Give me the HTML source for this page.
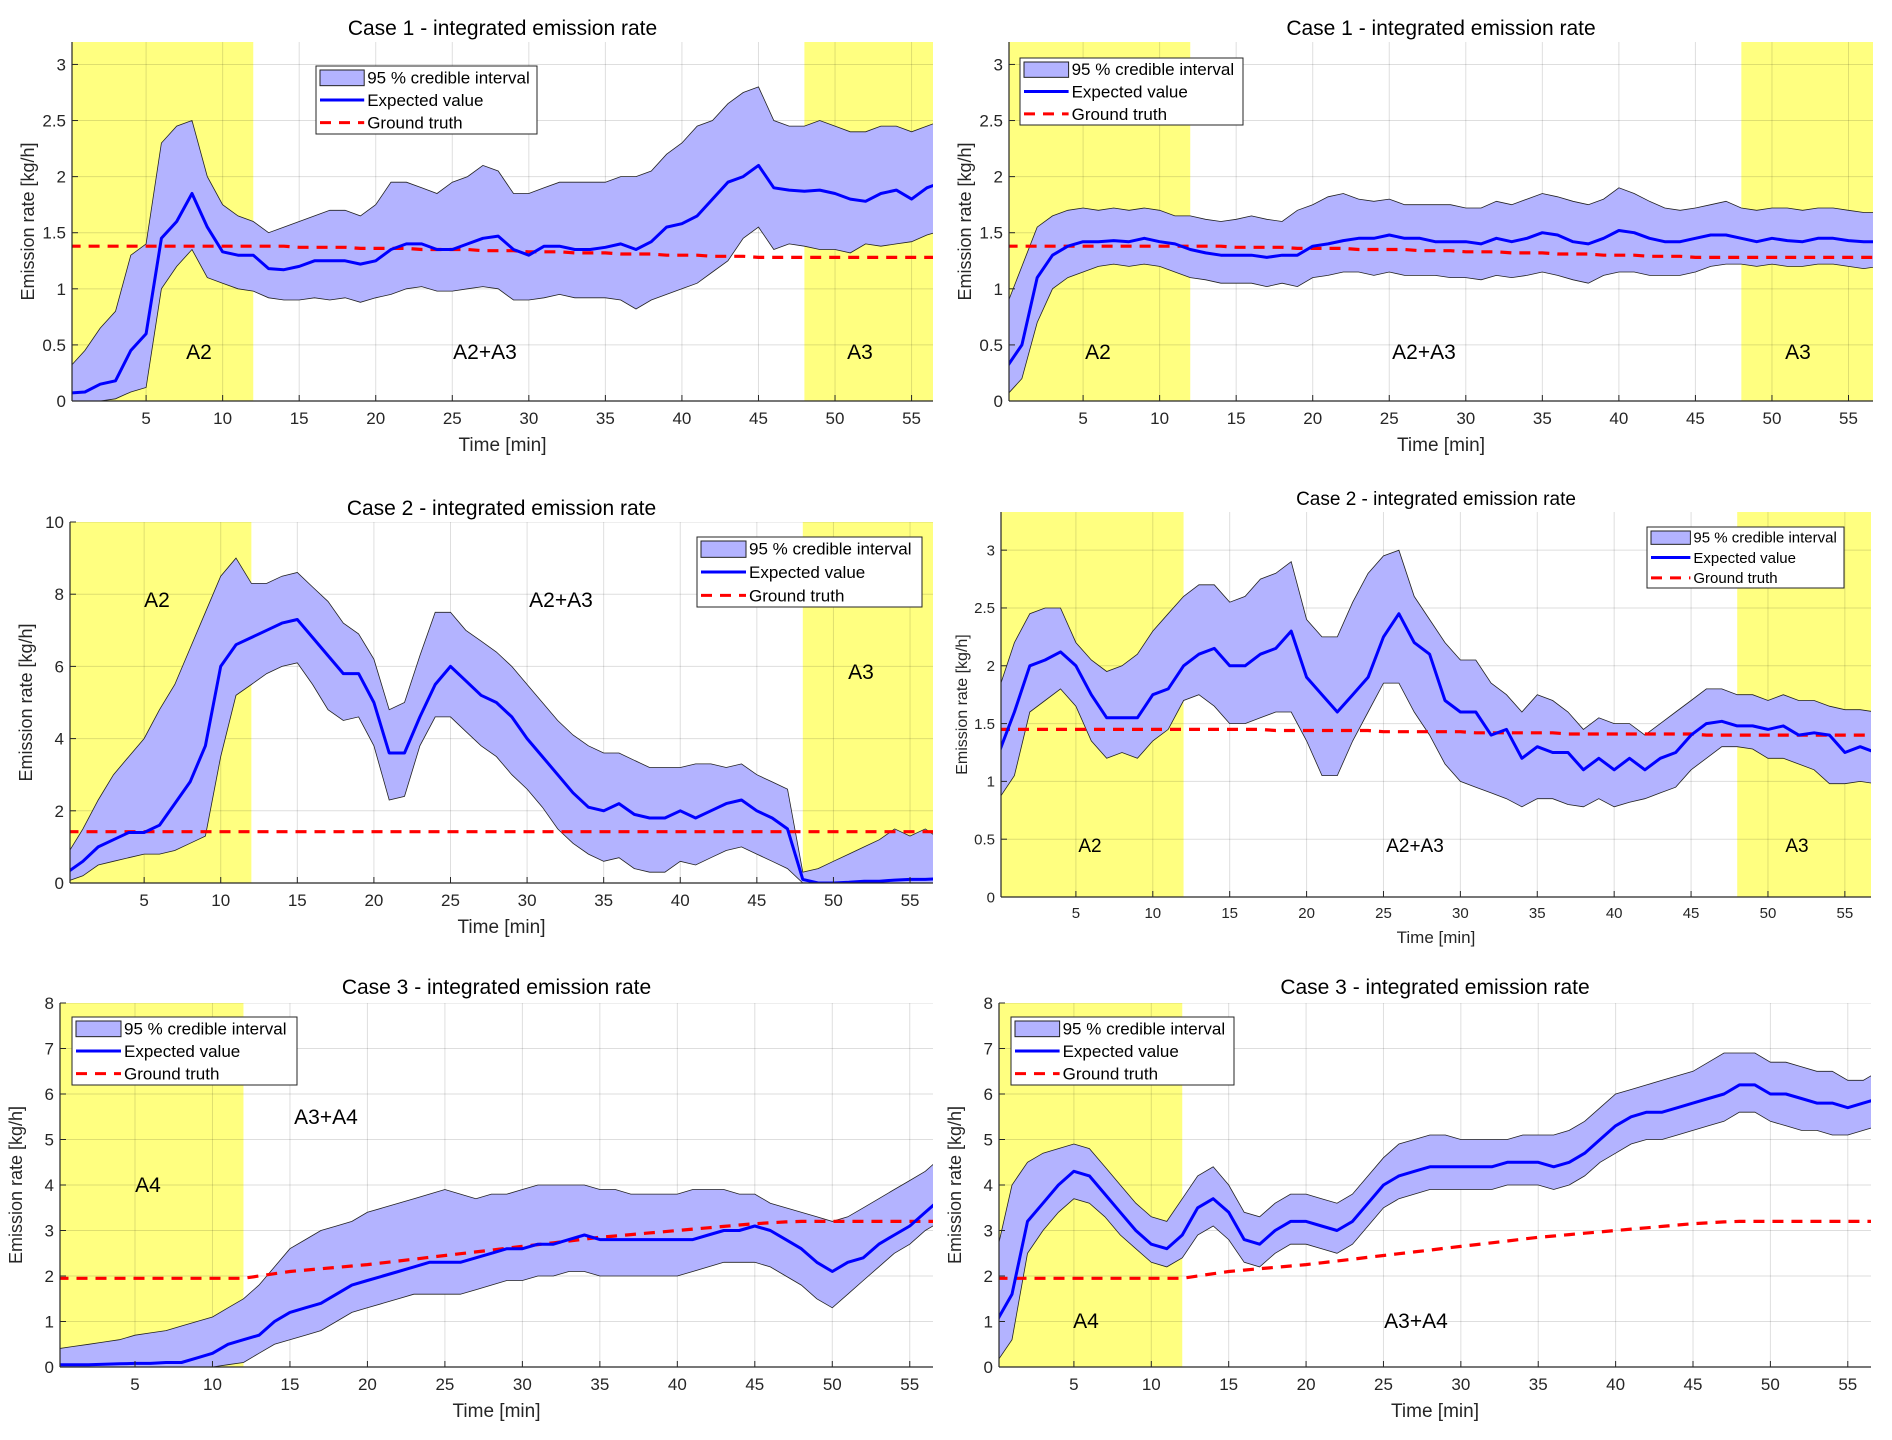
<!DOCTYPE html>
<html><head><meta charset="utf-8">
<style>
html,body{margin:0;padding:0;background:#fff;}
svg{display:block;font-family:"Liberation Sans",Arial,sans-serif;}
</style></head>
<body>
<svg id="fig" width="1892" height="1440" viewBox="0 0 1892 1440" xmlns="http://www.w3.org/2000/svg"></svg>
<script>
// Shared time axis (minutes)
const time = [0,1,2,3,4,5,6,7,8,9,10,11,12,13,14,15,16,17,18,19,20,21,22,23,24,25,26,27,28,29,30,31,32,33,34,35,36,37,38,39,40,41,42,43,44,45,46,47,48,49,50,51,52,53,54,55,56,57];
const xTicks = [5,10,15,20,25,30,35,40,45,50,55];

// Panel 1: Case 1 left
const p1Mean = [0.07,0.08,0.15,0.18,0.45,0.6,1.45,1.6,1.85,1.55,1.33,1.3,1.3,1.18,1.17,1.2,1.25,1.25,1.25,1.22,1.25,1.35,1.4,1.4,1.35,1.35,1.4,1.45,1.47,1.35,1.3,1.38,1.38,1.35,1.35,1.37,1.4,1.35,1.42,1.55,1.58,1.65,1.8,1.95,2.0,2.1,1.9,1.88,1.87,1.88,1.85,1.8,1.78,1.85,1.88,1.8,1.9,1.95];
const p1Upper = [0.3,0.45,0.65,0.8,1.3,1.4,2.3,2.45,2.5,2.0,1.75,1.65,1.6,1.5,1.55,1.6,1.65,1.7,1.7,1.65,1.75,1.95,1.95,1.9,1.85,1.95,2.0,2.1,2.05,1.85,1.85,1.9,1.95,1.95,1.95,1.95,2.0,2.0,2.05,2.2,2.3,2.45,2.5,2.65,2.75,2.8,2.5,2.45,2.45,2.5,2.45,2.4,2.4,2.45,2.45,2.4,2.45,2.5];
const p1Lower = [0,0,0,0.02,0.08,0.12,1.0,1.2,1.35,1.1,1.05,1.0,0.98,0.92,0.9,0.9,0.92,0.9,0.92,0.88,0.92,0.95,1.0,1.02,0.98,0.98,1.0,1.02,1.0,0.9,0.9,0.92,0.95,0.92,0.92,0.92,0.9,0.82,0.9,0.95,1.0,1.05,1.15,1.25,1.45,1.55,1.35,1.4,1.38,1.35,1.35,1.32,1.4,1.38,1.4,1.42,1.48,1.52];
const p1Truth = [1.38,1.38,1.38,1.38,1.38,1.38,1.38,1.38,1.38,1.38,1.38,1.38,1.38,1.38,1.38,1.37,1.37,1.37,1.37,1.36,1.36,1.36,1.36,1.35,1.35,1.35,1.35,1.34,1.34,1.34,1.33,1.33,1.33,1.32,1.32,1.32,1.31,1.31,1.31,1.3,1.3,1.3,1.29,1.29,1.29,1.28,1.28,1.28,1.28,1.28,1.28,1.28,1.28,1.28,1.28,1.28,1.28,1.28];

// Panel 2: Case 1 right
const p2Mean = [0.3,0.5,1.1,1.3,1.38,1.42,1.42,1.43,1.42,1.45,1.42,1.4,1.35,1.32,1.3,1.3,1.3,1.28,1.3,1.3,1.38,1.4,1.43,1.45,1.45,1.48,1.45,1.45,1.42,1.42,1.42,1.4,1.45,1.42,1.45,1.5,1.48,1.42,1.4,1.45,1.52,1.5,1.45,1.42,1.42,1.45,1.48,1.48,1.45,1.42,1.45,1.43,1.42,1.45,1.45,1.43,1.42,1.42];
const p2Upper = [0.85,1.2,1.55,1.65,1.7,1.72,1.7,1.72,1.7,1.72,1.7,1.65,1.65,1.62,1.6,1.62,1.65,1.62,1.6,1.7,1.75,1.82,1.85,1.8,1.78,1.8,1.75,1.75,1.75,1.75,1.72,1.72,1.78,1.75,1.8,1.85,1.82,1.78,1.75,1.8,1.9,1.85,1.78,1.72,1.7,1.72,1.75,1.78,1.72,1.7,1.72,1.72,1.7,1.72,1.72,1.7,1.68,1.68];
const p2Lower = [0.05,0.2,0.7,1.0,1.1,1.15,1.2,1.22,1.2,1.22,1.2,1.15,1.1,1.08,1.05,1.05,1.05,1.02,1.05,1.02,1.1,1.12,1.15,1.15,1.12,1.15,1.12,1.12,1.12,1.1,1.1,1.08,1.12,1.1,1.12,1.15,1.12,1.08,1.05,1.12,1.15,1.15,1.12,1.12,1.12,1.15,1.2,1.22,1.22,1.2,1.22,1.2,1.2,1.22,1.22,1.2,1.18,1.2];
const p2Truth = p1Truth;

// Panel 3: Case 2 left
const p3Mean = [0.3,0.6,1.0,1.2,1.4,1.4,1.6,2.2,2.8,3.8,6.0,6.6,6.8,7.0,7.2,7.3,6.8,6.3,5.8,5.8,5.0,3.6,3.6,4.6,5.5,6.0,5.6,5.2,5.0,4.6,4.0,3.5,3.0,2.5,2.1,2.0,2.2,1.9,1.8,1.8,2.0,1.8,2.0,2.2,2.3,2.0,1.8,1.5,0.1,0.0,0.0,0.02,0.05,0.05,0.08,0.1,0.1,0.12];
const p3Upper = [0.8,1.5,2.3,3.0,3.5,4.0,4.8,5.5,6.5,7.5,8.5,9.0,8.3,8.3,8.5,8.6,8.2,7.8,7.2,6.9,6.2,4.8,5.0,6.3,7.5,7.5,7.0,6.7,6.4,6.0,5.5,5.0,4.5,4.1,3.8,3.6,3.6,3.4,3.2,3.2,3.2,3.3,3.3,3.2,3.3,3.0,2.8,2.6,0.3,0.4,0.6,0.8,1.0,1.2,1.5,1.3,1.5,1.2];
const p3Lower = [0.05,0.2,0.5,0.6,0.7,0.8,0.8,0.9,1.1,1.3,3.5,5.2,5.5,5.8,6.0,6.1,5.5,4.8,4.5,4.6,3.8,2.3,2.4,3.8,4.6,4.6,4.2,3.8,3.5,3.0,2.6,2.1,1.5,1.1,0.8,0.6,0.7,0.4,0.3,0.3,0.6,0.5,0.7,0.9,1.0,0.8,0.6,0.4,0,0,0,0,0,0,0,0,0,0];
const p3Truth = [1.42,1.42,1.42,1.42,1.42,1.42,1.42,1.42,1.42,1.42,1.42,1.42,1.42,1.42,1.42,1.42,1.42,1.42,1.42,1.42,1.42,1.42,1.42,1.42,1.42,1.42,1.42,1.42,1.42,1.42,1.42,1.42,1.42,1.42,1.42,1.42,1.42,1.42,1.42,1.42,1.42,1.42,1.42,1.42,1.42,1.42,1.42,1.42,1.42,1.42,1.42,1.42,1.42,1.42,1.42,1.42,1.42,1.42];

// Panel 4: Case 2 right
const p4Mean = [1.25,1.6,2.0,2.05,2.12,2.0,1.75,1.55,1.55,1.55,1.75,1.8,2.0,2.1,2.15,2.0,2.0,2.1,2.15,2.3,1.9,1.75,1.6,1.75,1.9,2.25,2.45,2.2,2.1,1.7,1.6,1.6,1.4,1.45,1.2,1.3,1.25,1.25,1.1,1.2,1.1,1.2,1.1,1.2,1.25,1.4,1.5,1.52,1.48,1.48,1.45,1.48,1.4,1.42,1.4,1.25,1.3,1.25];
const p4Upper = [1.8,2.2,2.45,2.5,2.5,2.2,2.05,1.95,2.0,2.1,2.3,2.45,2.6,2.7,2.7,2.55,2.6,2.75,2.8,2.9,2.4,2.25,2.25,2.55,2.8,2.95,3.0,2.6,2.4,2.2,2.05,2.05,1.85,1.75,1.6,1.75,1.7,1.6,1.45,1.55,1.5,1.5,1.4,1.5,1.6,1.7,1.8,1.8,1.75,1.75,1.7,1.75,1.7,1.7,1.65,1.62,1.62,1.6];
const p4Lower = [0.85,1.05,1.6,1.7,1.8,1.65,1.35,1.2,1.25,1.2,1.35,1.45,1.7,1.75,1.65,1.5,1.5,1.55,1.6,1.6,1.35,1.05,1.05,1.35,1.6,1.85,1.85,1.6,1.4,1.15,1.0,0.95,0.9,0.85,0.78,0.85,0.85,0.8,0.78,0.85,0.78,0.82,0.85,0.9,0.95,1.1,1.2,1.3,1.3,1.28,1.2,1.2,1.15,1.1,0.98,0.98,1.0,0.98];
const p4Truth = [1.45,1.45,1.45,1.45,1.45,1.45,1.45,1.45,1.45,1.45,1.45,1.45,1.45,1.45,1.45,1.45,1.45,1.45,1.44,1.44,1.44,1.44,1.44,1.44,1.44,1.43,1.43,1.43,1.43,1.43,1.43,1.42,1.42,1.42,1.42,1.42,1.42,1.41,1.41,1.41,1.41,1.41,1.41,1.41,1.41,1.41,1.4,1.4,1.4,1.4,1.4,1.4,1.4,1.4,1.4,1.4,1.4,1.4];

// Panel 5: Case 3 left
const p5Mean = [0.05,0.05,0.05,0.06,0.07,0.08,0.08,0.1,0.1,0.2,0.3,0.5,0.6,0.7,1.0,1.2,1.3,1.4,1.6,1.8,1.9,2.0,2.1,2.2,2.3,2.3,2.3,2.4,2.5,2.6,2.6,2.7,2.7,2.8,2.9,2.8,2.8,2.8,2.8,2.8,2.8,2.8,2.9,3.0,3.0,3.1,3.0,2.8,2.6,2.3,2.1,2.3,2.4,2.7,2.9,3.1,3.4,3.7];
const p5Upper = [0.4,0.45,0.5,0.55,0.6,0.7,0.75,0.8,0.9,1.0,1.1,1.3,1.5,1.8,2.2,2.6,2.8,3.0,3.1,3.2,3.4,3.5,3.6,3.7,3.8,3.9,3.8,3.7,3.8,3.8,3.9,4.0,4.0,4.0,4.0,3.9,3.9,3.8,3.8,3.8,3.8,3.9,3.9,3.9,3.8,3.8,3.6,3.5,3.4,3.3,3.2,3.3,3.5,3.7,3.9,4.1,4.3,4.6];
const p5Lower = [0,0,0,0,0,0,0,0,0,0,0,0.05,0.1,0.3,0.5,0.6,0.7,0.8,1.0,1.2,1.3,1.4,1.5,1.6,1.6,1.6,1.6,1.7,1.8,1.9,1.9,2.0,2.0,2.1,2.1,2.0,2.0,2.0,2.0,2.0,2.0,2.1,2.2,2.3,2.3,2.3,2.2,2.0,1.8,1.5,1.3,1.6,1.9,2.2,2.5,2.7,3.0,3.2];
const p5Truth = [1.95,1.95,1.95,1.95,1.95,1.95,1.95,1.95,1.95,1.95,1.95,1.95,1.95,2.0,2.05,2.1,2.13,2.16,2.19,2.22,2.25,2.29,2.33,2.37,2.41,2.45,2.49,2.53,2.57,2.61,2.65,2.69,2.73,2.77,2.81,2.85,2.88,2.91,2.94,2.97,3.0,3.03,3.06,3.09,3.12,3.15,3.17,3.19,3.2,3.2,3.2,3.2,3.2,3.2,3.2,3.2,3.2,3.2];

// Panel 6: Case 3 right
const p6Mean = [1.0,1.6,3.2,3.6,4.0,4.3,4.2,3.8,3.4,3.0,2.7,2.6,2.9,3.5,3.7,3.4,2.8,2.7,3.0,3.2,3.2,3.1,3.0,3.2,3.6,4.0,4.2,4.3,4.4,4.4,4.4,4.4,4.4,4.5,4.5,4.5,4.4,4.5,4.7,5.0,5.3,5.5,5.6,5.6,5.7,5.8,5.9,6.0,6.2,6.2,6.0,6.0,5.9,5.8,5.8,5.7,5.8,5.9];
const p6Upper = [2.5,4.0,4.5,4.7,4.8,4.9,4.8,4.4,4.0,3.6,3.3,3.2,3.7,4.2,4.4,4.0,3.4,3.3,3.6,3.8,3.8,3.7,3.6,3.8,4.2,4.6,4.9,5.0,5.1,5.1,5.0,5.0,5.0,5.0,5.1,5.1,5.1,5.2,5.4,5.7,6.0,6.1,6.2,6.3,6.4,6.5,6.7,6.9,6.9,6.9,6.7,6.7,6.6,6.5,6.5,6.3,6.3,6.5];
const p6Lower = [0.1,0.6,2.5,3.0,3.4,3.7,3.6,3.3,2.9,2.6,2.3,2.2,2.4,2.9,3.1,2.8,2.3,2.2,2.5,2.7,2.7,2.6,2.5,2.7,3.1,3.5,3.7,3.8,3.9,3.9,3.9,3.9,3.9,4.0,4.0,4.0,3.9,4.0,4.2,4.5,4.7,4.9,5.0,5.0,5.1,5.2,5.3,5.4,5.6,5.6,5.4,5.3,5.2,5.2,5.1,5.1,5.2,5.3];
const p6Truth = p5Truth;

const yTicks1 = [0,0.5,1,1.5,2,2.5,3];
const yTicks3 = [0,2,4,6,8,10];
const yTicks5 = [0,1,2,3,4,5,6,7,8];

const NS = "http://www.w3.org/2000/svg";
const svg = document.getElementById('fig');
function mk(tag, attrs, parent){
  const e = document.createElementNS(NS, tag);
  for (const k in attrs) e.setAttribute(k, attrs[k]);
  (parent||svg).appendChild(e);
  return e;
}

const panels = [
  {id:'p1', title:'Case 1 - integrated emission rate', L:72,R:933,T:42,B:401, xmin:0.16,xmax:56.4, ymax:3.2, yt:yTicks1, fs:17, tfs:21, mean:p1Mean, up:p1Upper, lo:p1Lower, truth:p1Truth, yellow:[[0,12],[48,60]],
   leg:{x:316,y:66,w:221,h:68}, labels:[['A2',199,359],['A2+A3',485,359],['A3',860,359]], titleY:35},
  {id:'p2', title:'Case 1 - integrated emission rate', L:1009,R:1873,T:42,B:401, xmin:0.16,xmax:56.6, ymax:3.2, yt:yTicks1, fs:17, tfs:21, mean:p2Mean, up:p2Upper, lo:p2Lower, truth:p2Truth, yellow:[[0,12],[48,60]],
   leg:{x:1020,y:58,w:223,h:67}, labels:[['A2',1098,359],['A2+A3',1424,359],['A3',1798,359]], titleY:35},
  {id:'p3', title:'Case 2 - integrated emission rate', L:70,R:933,T:522,B:883, xmin:0.16,xmax:56.5, ymax:10, yt:yTicks3, fs:17, tfs:21, mean:p3Mean, up:p3Upper, lo:p3Lower, truth:p3Truth, yellow:[[0,12],[48,60]],
   leg:{x:697,y:537,w:225,h:70}, labels:[['A2',157,607],['A2+A3',561,607],['A3',861,679]], titleY:515},
  {id:'p4', title:'Case 2 - integrated emission rate', L:1001,R:1871,T:512,B:897, xmin:0.13,xmax:56.7, ymax:3.33, yt:yTicks1, fs:15, tfs:19, mean:p4Mean, up:p4Upper, lo:p4Lower, truth:p4Truth, yellow:[[0,12],[48,60]],
   leg:{x:1647,y:527,w:197,h:61}, labels:[['A2',1090,852],['A2+A3',1415,852],['A3',1797,852]], titleY:505},
  {id:'p5', title:'Case 3 - integrated emission rate', L:60,R:933,T:1003,B:1367, xmin:0.16,xmax:56.5, ymax:8, yt:yTicks5, fs:17, tfs:21, mean:p5Mean, up:p5Upper, lo:p5Lower, truth:p5Truth, yellow:[[0,12]],
   leg:{x:72,y:1017,w:225,h:68}, labels:[['A4',148,1192],['A3+A4',326,1124]], titleY:994},
  {id:'p6', title:'Case 3 - integrated emission rate', L:999,R:1871,T:1003,B:1367, xmin:0.16,xmax:56.5, ymax:8, yt:yTicks5, fs:17, tfs:21, mean:p6Mean, up:p6Upper, lo:p6Lower, truth:p6Truth, yellow:[[0,12]],
   leg:{x:1011,y:1017,w:223,h:68}, labels:[['A4',1086,1328],['A3+A4',1416,1328]], titleY:994}
];

panels.forEach(p => {
  const g = mk('g', {});
  
  
  const xs = v => p.L + (v - p.xmin) / (p.xmax - p.xmin) * (p.R - p.L);
  const ys = v => p.B - v / p.ymax * (p.B - p.T);
  const cp = mk('clipPath', {id: 'clip-' + p.id}, g);
  mk('rect', {x:p.L, y:p.T, width:p.R-p.L, height:p.B-p.T}, cp);
  const plot = mk('g', {'clip-path': 'url(#clip-' + p.id + ')'}, g);
  p.yellow.forEach(r => {
    const y = mk('rect', {x:xs(r[0]), y:p.T, width:xs(r[1])-xs(r[0]), height:p.B-p.T, fill:'#ffff80'}, plot);
    
    
  });
  xTicks.forEach(t => {
    mk('line', {x1:xs(t), x2:xs(t), y1:p.T, y2:p.B, stroke:'#000', 'stroke-opacity':0.13, 'stroke-width':1}, plot);
  });
  p.yt.forEach(t => {
    mk('line', {x1:p.L, x2:p.R, y1:ys(t), y2:ys(t), stroke:'#000', 'stroke-opacity':0.13, 'stroke-width':1}, plot);
  });
  let d = '';
  time.forEach((t,i) => { d += (i ? 'L' : 'M') + xs(t).toFixed(1) + ',' + ys(p.up[i]).toFixed(1); });
  for (let i = time.length - 1; i >= 0; i--) d += 'L' + xs(time[i]).toFixed(1) + ',' + ys(p.lo[i]).toFixed(1);
  const band = mk('path', {d: d + 'Z', fill:'#b3b3ff', stroke:'#222', 'stroke-width':0.8}, plot);
  
  
  const pts = arr => time.map((t,i) => xs(t).toFixed(1) + ',' + ys(arr[i]).toFixed(1)).join(' ');
  const tr = mk('polyline', {points: pts(p.truth), fill:'none', stroke:'#ff0000', 'stroke-width':3.2, 'stroke-dasharray':'11,8'}, plot);
  
  
  const mn = mk('polyline', {points: pts(p.mean), fill:'none', stroke:'#0000ff', 'stroke-width':3, 'stroke-linejoin':'round'}, plot);
  
  
  mk('line', {x1:p.L, x2:p.R, y1:p.B, y2:p.B, stroke:'#262626', 'stroke-width':1.2}, g);
  mk('line', {x1:p.L, x2:p.L, y1:p.T, y2:p.B, stroke:'#262626', 'stroke-width':1.2}, g);
  xTicks.forEach(t => {
    mk('line', {x1:xs(t), x2:xs(t), y1:p.B, y2:p.B-6, stroke:'#262626'}, g);
    const tx = mk('text', {x:xs(t), y:p.B + p.fs + 6, 'font-size':p.fs, 'text-anchor':'middle', fill:'#262626'}, g);
    tx.textContent = t;
    
    
  });
  p.yt.forEach(t => {
    mk('line', {x1:p.L, x2:p.L+6, y1:ys(t), y2:ys(t), stroke:'#262626'}, g);
    const ty = mk('text', {x:p.L - 6, y:ys(t) + p.fs*0.35, 'font-size':p.fs, 'text-anchor':'end', fill:'#262626'}, g);
    ty.textContent = t;
    
    
  });
  const xl = mk('text', {x:(p.L+p.R)/2, y:p.B + p.fs*2 + 16, 'font-size':p.fs+2, 'text-anchor':'middle', fill:'#262626'}, g);
  xl.textContent = 'Time [min]';
  
  
  const ylx = p.L - p.fs*2 - 4;
  const yl = mk('text', {x:ylx, y:(p.T+p.B)/2, 'font-size':p.fs+1, 'text-anchor':'middle', fill:'#262626', transform:'rotate(-90 ' + ylx + ' ' + (p.T+p.B)/2 + ')'}, g);
  yl.textContent = 'Emission rate [kg/h]';
  
  
  const ti = mk('text', {x:(p.L+p.R)/2, y:p.titleY, 'font-size':p.tfs, 'text-anchor':'middle', fill:'#000'}, g);
  ti.textContent = p.title;
  
  
  p.labels.forEach(l => {
    const lt = mk('text', {x:l[1], y:l[2], 'font-size':p.fs+4, 'text-anchor':'middle', fill:'#000'}, g);
    lt.textContent = l[0];
    
    
  });
  const lg = mk('g', {}, g);
  
  
  const L = p.leg;
  mk('rect', {x:L.x, y:L.y, width:L.w, height:L.h, fill:'#fff', stroke:'#262626', 'stroke-width':1}, lg);
  const rh = L.h / 3;
  const sw = L.w * 0.2;
  mk('rect', {x:L.x+4, y:L.y+4, width:sw, height:rh-7, fill:'#b3b3ff', stroke:'#222'}, lg);
  mk('line', {x1:L.x+4, x2:L.x+4+sw, y1:L.y+rh*1.5, y2:L.y+rh*1.5, stroke:'#0000ff', 'stroke-width':3}, lg);
  mk('line', {x1:L.x+4, x2:L.x+4+sw, y1:L.y+rh*2.5, y2:L.y+rh*2.5, stroke:'#ff0000', 'stroke-width':3, 'stroke-dasharray':'11,8'}, lg);
  ['95 % credible interval','Expected value','Ground truth'].forEach((s,i) => {
    const t = mk('text', {x:L.x+sw+7, y:L.y+rh*(i+0.5)+p.fs*0.35, 'font-size':p.fs, fill:'#000'}, lg);
    t.textContent = s;
    
    
  });
});
</script>
</body></html>
